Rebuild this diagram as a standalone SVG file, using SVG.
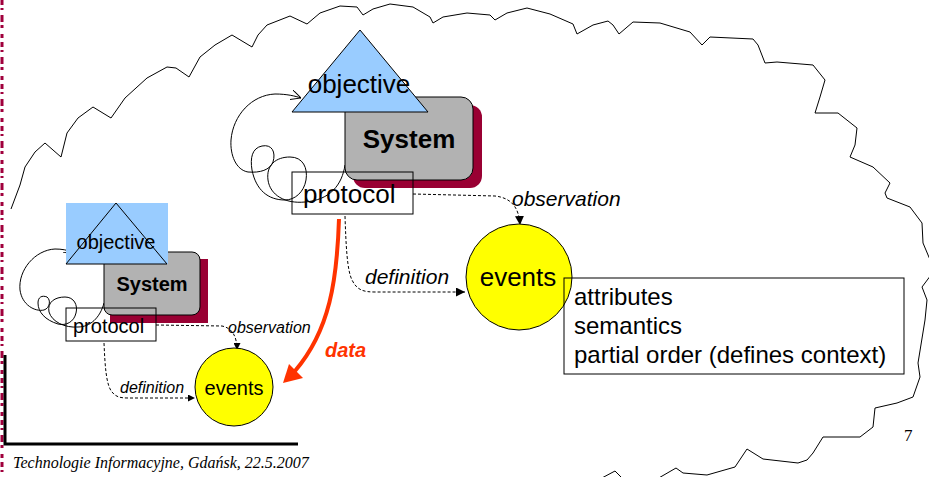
<svg xmlns="http://www.w3.org/2000/svg" width="929" height="477" viewBox="0 0 929 477">
<defs>
<style>
.sans{font-family:"Liberation Sans",Arial,sans-serif;fill:#000}
.line{fill:none;stroke:#000;stroke-width:1}
.dash{fill:none;stroke:#000;stroke-width:1;stroke-dasharray:3 2}
.tri{fill:#99CCFF;stroke:#000;stroke-width:1}
.sys{fill:#B2B2B2;stroke:#000;stroke-width:1}
.shadow{fill:#990033}
.ev{fill:#FFFF00;stroke:#000;stroke-width:1}
.box{fill:#fff;stroke:#000;stroke-width:1}
</style>
<marker id="ah" viewBox="0 0 10 10" refX="10" refY="5" markerWidth="9" markerHeight="9" markerUnits="userSpaceOnUse" orient="auto"><path d="M0,0 L10,5 L0,10 z" fill="#000"/></marker>
<marker id="ahs" viewBox="0 0 10 10" refX="10" refY="5" markerWidth="7" markerHeight="7" markerUnits="userSpaceOnUse" orient="auto"><path d="M0,0 L10,5 L0,10 z" fill="#000"/></marker>
<marker id="open" viewBox="0 0 10 10" refX="10" refY="5" markerWidth="10" markerHeight="10" markerUnits="userSpaceOnUse" orient="auto"><path d="M0,0 L10,5 L0,10" fill="none" stroke="#000" stroke-width="1"/></marker>
<marker id="opens" viewBox="0 0 10 10" refX="10" refY="5" markerWidth="8" markerHeight="8" markerUnits="userSpaceOnUse" orient="auto"><path d="M0,0 L10,5 L0,10" fill="none" stroke="#000" stroke-width="1"/></marker>
</defs>
<rect width="929" height="477" fill="#fff"/>
<g id="decor">
<line x1="2" y1="0" x2="2" y2="477" stroke="#A0003C" stroke-width="3" stroke-dasharray="5 3 2 5 7 3 3 6 4 4"/>
<polyline points="5,355 5,444 298,444" fill="none" stroke="#000" stroke-width="3"/>
<path class="line" d="M11,209 L20,185 L25,167 L35,152 L45,143 L61,157 L67,133 L78,118 L93,107 L111,118 L125,98 L147,78 L167,67 L176,68 L189,77 L200,57 L215,45 L232,35 L252,47 L258,35 L267,25 L290,16 L307,24 L320,13 L340,6 L357,7 L363,15 L373,9 L390,4 L413,7 L430,17 L433,23 L443,17 L467,13 L490,15 L495,20 L507,13 L527,8 L550,14 L573,24 L577,34 L593,25 L608,21 L613,25 L619,34 L633,22 L660,23 L690,32 L702,45 L710,37 L753,39 L758,45 L765,63 L777,62 L813,65 L825,80 L820,97 L815,113 L838,113 L857,128 L855,145 L850,157 L873,167 L890,183 L885,193 L887,198 L910,207 L922,223 L923,243 L931,262 M931,275 L922,287 L927,300 L925,320 L918,363 L920,377 L913,397 L897,403 L875,408 L873,427 L860,437 L823,437 L813,453 L807,460 L798,463 L763,459 L747,449 L735,467 L707,475 L683,473 L676,468 L657,479 M600,479 L615,471 L623,479"/>
<text x="13" y="468" font-family="'Liberation Serif','Times New Roman',serif" font-style="italic" font-size="16">Technologie Informacyjne, Gdańsk, 22.5.2007</text>
<text x="904" y="441" font-family="'Liberation Serif','Times New Roman',serif" font-size="17">7</text>
</g>
<g id="connectors">
<path class="line" d="M345,165 C342,185 330,200 305,202 C285,204 270,195 268,180 C266,165 276,157 290,157 C303,157 308,168 306,180 C304,192 295,200 285,200 C268,200 256,190 252,170 C250,158 252,148 262,146 C272,144 276,152 273,162 C270,170 260,173 248,172 C236,170 230,155 231,140 C233,115 252,95 275,94 C287,94 295,96 301,98" marker-end="url(#open)"/>
<path class="dash" d="M413,194 L495,196 C512,198 519,208 520,225" marker-end="url(#ah)"/>
<path class="dash" d="M345,216 C346,245 347,270 352,280 C357,290 363,292 375,292 L465,292" marker-end="url(#ah)"/>
<path d="M339,219 C337,280 330,330 295,371" fill="none" stroke="#FF3300" stroke-width="4"/>
<polygon points="283,383 289,364 303,378" fill="#FF3300"/>
<path class="line" d="M104,303 C100,318 90,327 78,327 C65,328 52,322 49,312 C47,302 55,297 65,297 C74,297 78,305 76,313 C74,322 66,326 58,324 C45,320 38,312 38,303 C38,297 42,295 47,297 C51,300 50,308 44,310 C35,312 22,305 20,290 C18,270 35,250 55,249 C62,249 67,250 72,252" marker-end="url(#opens)"/>
<path class="dash" d="M156,325 L222,326 C232,328 237,336 237,350" marker-end="url(#ahs)"/>
<path class="dash" d="M104,343 C105,365 106,385 112,392 C116,397 120,398 128,398 L195,398" marker-end="url(#ahs)"/>
<text class="sans" x="512" y="206" font-size="21" font-style="italic">observation</text>
<text class="sans" x="365" y="284" font-size="21" font-style="italic">definition</text>
<text x="325" y="357" font-family="'Liberation Sans',Arial,sans-serif" font-size="20" font-weight="bold" font-style="italic" fill="#FF3300">data</text>
<text class="sans" x="228" y="333" font-size="16" font-style="italic">observation</text>
<text class="sans" x="120" y="393" font-size="16" font-style="italic">definition</text>
</g>
<g id="big-system">
<rect class="shadow" x="353" y="105" width="129" height="83" rx="12"/>
<rect class="sys" x="345" y="97" width="128" height="83" rx="12"/>
<text class="sans" x="409" y="148" font-size="26" font-weight="bold" text-anchor="middle">System</text>
</g>
<g id="big-objective">
<polygon class="tri" points="360,30 292,112 428,112"/>
<text class="sans" x="359" y="93" font-size="26" text-anchor="middle">objective</text>
</g>
<g id="big-protocol">
<rect class="box" x="292" y="172" width="121" height="42" fill-opacity="0"/>
<text class="sans" x="303" y="203" font-size="26">protocol</text>
</g>
<g id="big-events">
<circle class="ev" cx="519" cy="277" r="53"/>
<text class="sans" x="518" y="286" font-size="26" text-anchor="middle">events</text>
</g>
<g id="attributes">
<rect x="564" y="278" width="340" height="96" fill="none" stroke="#000" stroke-width="1"/>
<text class="sans" x="574" y="305" font-size="24">attributes</text>
<text class="sans" x="574" y="334" font-size="24">semantics</text>
<text class="sans" x="574" y="363" font-size="24">partial order (defines context)</text>
</g>
<g id="small-system">
<rect class="shadow" x="110" y="259" width="98" height="64"/>
<rect class="sys" x="104" y="252" width="96" height="63" rx="8"/>
<text class="sans" x="152" y="291" font-size="20" font-weight="bold" text-anchor="middle">System</text>
</g>
<g id="small-objective">
<rect x="66" y="203" width="102" height="61" fill="#99CCFF"/>
<polygon class="tri" points="116,203 66,264 167,264"/>
<text class="sans" x="116" y="249" font-size="20" text-anchor="middle">objective</text>
</g>
<g id="small-protocol">
<rect class="box" x="66" y="308" width="90" height="33" fill-opacity="0"/>
<text class="sans" x="73" y="333" font-size="20">protocol</text>
</g>
<g id="small-events">
<circle class="ev" cx="234" cy="387" r="39"/>
<text class="sans" x="234" y="395" font-size="20" text-anchor="middle">events</text>
</g>
</svg>
